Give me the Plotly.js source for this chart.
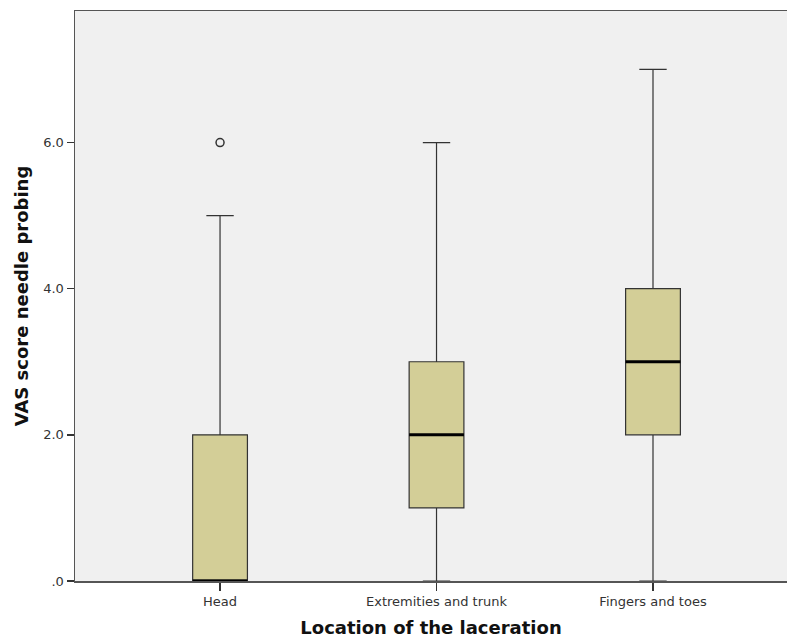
<!DOCTYPE html>
<html>
<head>
<meta charset="utf-8">
<script src="https://cdn.plot.ly/plotly-3.0.1.min.js"></script>
<style>html,body{margin:0;padding:0;background:#fff;}#chart{width:787px;height:638px;}</style>
</head>
<body>
<div id="chart"></div>
<script>
const categories = ["Head", "Extremities and trunk", "Fingers and toes"];
const lowerWhisker = [0, 0, 0];
const q1Values = [0, 1, 2];
const medianValues = [0, 2, 3];
const q3Values = [2, 3, 4];
const upperWhisker = [5, 6, 7];
const outlierCategory = ["Head"];
const outlierValues = [6];
const yTickVals = [0, 2, 4, 6];
const yTickText = [".0", "2.0", "4.0", "6.0"];

const xPos = categories.map((c, i) => i);
const boxWidth = 0.253;

const traces = [{
  type: "box",
  x: xPos,
  q1: q1Values,
  median: medianValues,
  q3: q3Values,
  lowerfence: lowerWhisker,
  upperfence: upperWhisker,
  width: boxWidth,
  whiskerwidth: 0.5,
  fillcolor: "#D3CE97",
  line: {color: "#333333", width: 1.2},
  boxpoints: false,
  hoverinfo: "skip",
  showlegend: false
}];

// thick median lines
categories.forEach((c, i) => {
  traces.push({
    type: "scatter", mode: "lines",
    x: [i - boxWidth / 2, i + boxWidth / 2],
    y: [medianValues[i], medianValues[i]],
    line: {color: "#000000", width: 3},
    showlegend: false, hoverinfo: "skip"
  });
});

traces.push({
  type: "scatter", mode: "markers",
  x: outlierCategory.map(c => categories.indexOf(c)),
  y: outlierValues,
  marker: {symbol: "circle-open", size: 8, color: "#333333", line: {width: 1.5, color: "#333333"}},
  showlegend: false, hoverinfo: "skip"
});

const layout = {
  width: 787, height: 638,
  margin: {l: 75, r: 0, t: 11, b: 57},
  paper_bgcolor: "#ffffff",
  plot_bgcolor: "#F0F0F0",
  font: {family: "DejaVu Sans", color: "#333333", size: 13},
  xaxis: {
    range: [-0.670, 2.619],
    tickmode: "array",
    tickvals: xPos,
    ticktext: categories,
    ticks: "outside", ticklen: 8, tickwidth: 1.5, tickcolor: "#333333",
    showline: true, linecolor: "#555555", linewidth: 1.5, mirror: true,
    showgrid: false, zeroline: false,
    tickfont: {size: 13, color: "#333333"},
    title: {text: "Location of the laceration", font: {size: 18, color: "#111111", family: "DejaVu Sans", weight: "bold"}, standoff: 13}
  },
  yaxis: {
    range: [0, 7.8],
    tickmode: "array",
    tickvals: yTickVals,
    ticktext: yTickText,
    ticks: "outside", ticklen: 7, tickwidth: 1.5, tickcolor: "#333333",
    showline: true, linecolor: "#555555", linewidth: 1.5,
    showgrid: false, zeroline: false,
    tickfont: {size: 13, color: "#333333"},
    title: {text: "VAS score needle probing", font: {size: 18, color: "#111111", family: "DejaVu Sans", weight: "bold"}, standoff: 10}
  }
};

Plotly.newPlot("chart", traces, layout, {displayModeBar: false, staticPlot: true});
</script>
</body>
</html>
